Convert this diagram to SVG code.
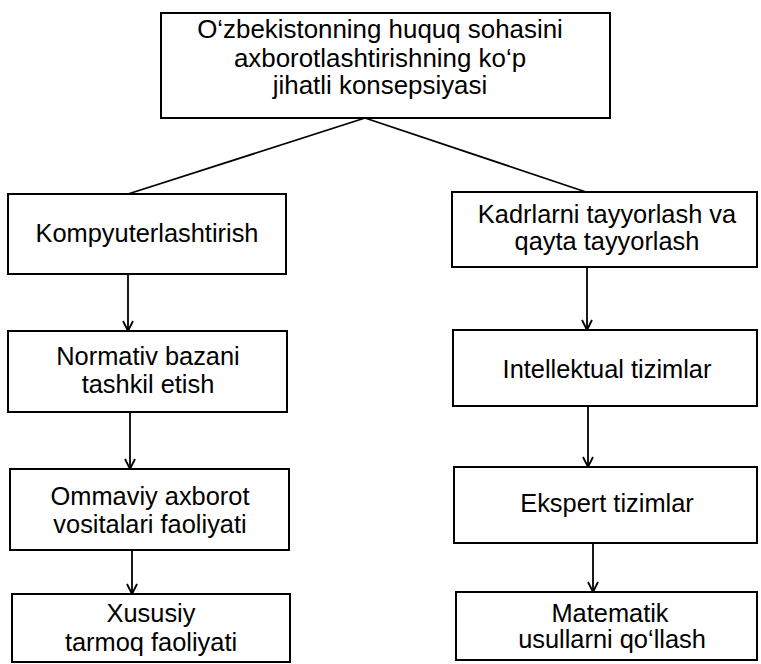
<svg xmlns="http://www.w3.org/2000/svg" width="761" height="664" viewBox="0 0 761 664">
<defs>
<style>
.box{fill:#fff;stroke:#000;stroke-width:2}
.t{font-family:"Liberation Sans",Arial,sans-serif;font-size:25.4px;fill:#000;text-anchor:middle}
.tt{font-size:25.9px}
.c{fill:none;stroke:#000;stroke-width:1.8}
</style>
<marker id="ah" viewBox="0 0 12 12" refX="11" refY="6" markerWidth="12" markerHeight="12" markerUnits="userSpaceOnUse" orient="auto">
<path d="M1,1 L11,6 L1,11" fill="none" stroke="#000" stroke-width="1.8"/>
</marker>
</defs>
<rect width="761" height="664" fill="#fff"/>
<g id="connectors">
<line class="c" x1="365" y1="118" x2="128" y2="194"/>
<line class="c" x1="365" y1="118" x2="586" y2="192"/>
<line class="c" x1="128" y1="274" x2="128" y2="331" marker-end="url(#ah)"/>
<line class="c" x1="130" y1="412" x2="130" y2="469" marker-end="url(#ah)"/>
<line class="c" x1="132" y1="550" x2="132" y2="594" marker-end="url(#ah)"/>
<line class="c" x1="587" y1="267" x2="587" y2="330" marker-end="url(#ah)"/>
<line class="c" x1="588" y1="406" x2="588" y2="467" marker-end="url(#ah)"/>
<line class="c" x1="593" y1="543" x2="593" y2="592" marker-end="url(#ah)"/>
</g>
<g id="top">
<rect class="box" x="161" y="13" width="449" height="105"/>
<text class="t tt" x="380" y="38">O‘zbekistonning huquq sohasini</text>
<text class="t tt" x="380" y="67">axborotlashtirishning ko‘p</text>
<text class="t tt" x="380" y="94">jihatli konsepsiyasi</text>
</g>
<g id="kompyuter">
<rect class="box" x="8" y="194" width="278" height="80"/>
<text class="t" x="147" y="242">Kompyuterlashtirish</text>
</g>
<g id="normativ">
<rect class="box" x="8" y="331" width="279" height="81"/>
<text class="t" x="148" y="365">Normativ bazani</text>
<text class="t" x="148" y="393">tashkil etish</text>
</g>
<g id="ommaviy">
<rect class="box" x="10" y="469" width="279" height="81"/>
<text class="t" x="150" y="505">Ommaviy axborot</text>
<text class="t" x="150" y="533">vositalari faoliyati</text>
</g>
<g id="xususiy">
<rect class="box" x="12" y="594" width="278" height="68"/>
<text class="t" x="151" y="622">Xususiy</text>
<text class="t" x="151" y="651">tarmoq faoliyati</text>
</g>
<g id="kadrlar">
<rect class="box" x="452" y="192" width="305" height="75"/>
<text class="t" x="607" y="223">Kadrlarni tayyorlash va</text>
<text class="t" x="607" y="250">qayta tayyorlash</text>
</g>
<g id="intellektual">
<rect class="box" x="453" y="330" width="304" height="76"/>
<text class="t" x="607" y="378">Intellektual tizimlar</text>
</g>
<g id="ekspert">
<rect class="box" x="454" y="467" width="303" height="76"/>
<text class="t" x="607" y="512">Ekspert tizimlar</text>
</g>
<g id="matematik">
<rect class="box" x="456" y="592" width="301" height="68"/>
<text class="t" x="610" y="622">Matematik</text>
<text class="t" x="612" y="648">usullarni qo‘llash</text>
</g>
</svg>
